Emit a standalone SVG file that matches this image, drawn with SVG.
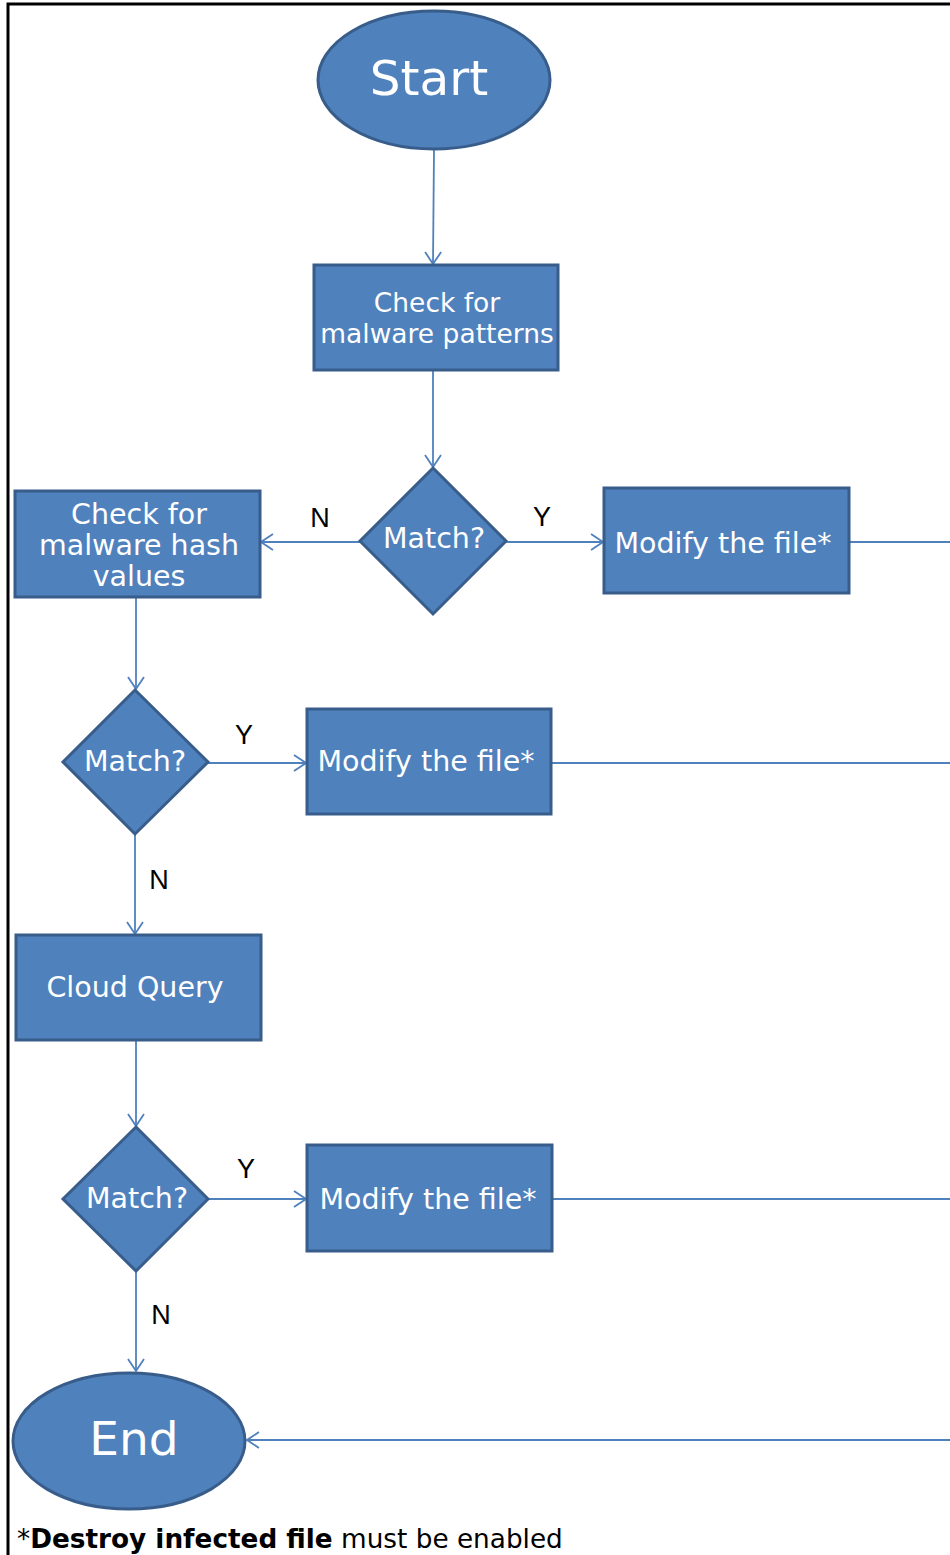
<svg xmlns="http://www.w3.org/2000/svg" width="950" height="1555" viewBox="0 0 950 1555">
<defs>
<style>
.shape{fill:#4F81BD;stroke:#385D8A;stroke-width:3}
.t{fill:#fff;font-family:"DejaVu Sans",Verdana,sans-serif;font-size:28.5px;text-anchor:middle;dominant-baseline:central}
.s27{font-size:26.5px}
.big{font-size:48.5px}
.end{font-size:47px}
.lbl{fill:#000;font-family:"Liberation Sans",Arial,sans-serif;font-size:27px;text-anchor:middle;dominant-baseline:central}
.c{stroke:#4F81BD;stroke-width:1.8;fill:none}
</style>
<marker id="ar" viewBox="0 0 14 18" refX="13" refY="9" markerWidth="14" markerHeight="18" markerUnits="userSpaceOnUse" orient="auto">
<path d="M1,1 L13,9 L1,17" fill="none" stroke="#4F81BD" stroke-width="1.8"/>
</marker>
</defs>
<rect width="950" height="1555" fill="#fff"/>
<path d="M8,1555 V4 H950" fill="none" stroke="#000" stroke-width="3"/>

<g id="connectors">
<path class="c" d="M434,150 L433,264" marker-end="url(#ar)"/>
<path class="c" d="M433,370 L433,467" marker-end="url(#ar)"/>
<path class="c" d="M360,542 L261,542" marker-end="url(#ar)"/>
<path class="c" d="M506,542 L603,542" marker-end="url(#ar)"/>
<path class="c" d="M849,542 L950,542"/>
<path class="c" d="M136,597 L136,689" marker-end="url(#ar)"/>
<path class="c" d="M208,763 L306,763" marker-end="url(#ar)"/>
<path class="c" d="M551,763 L950,763"/>
<path class="c" d="M135,834 L135,934" marker-end="url(#ar)"/>
<path class="c" d="M136,1040 L136,1126" marker-end="url(#ar)"/>
<path class="c" d="M208,1199 L306,1199" marker-end="url(#ar)"/>
<path class="c" d="M552,1199 L950,1199"/>
<path class="c" d="M136,1271 L136,1371" marker-end="url(#ar)"/>
<path class="c" d="M950,1440 L247,1440" marker-end="url(#ar)"/>
<text class="lbl" x="320" y="518">N</text>
<text class="lbl" x="542" y="517">Y</text>
<text class="lbl" x="244" y="735">Y</text>
<text class="lbl" x="159" y="880">N</text>
<text class="lbl" x="246" y="1169">Y</text>
<text class="lbl" x="161" y="1315">N</text>
</g>

<g id="start">
<ellipse class="shape" cx="434" cy="80" rx="116" ry="69"/>
<text class="t big" x="429" y="78">Start</text>
</g>
<g id="check-patterns">
<rect class="shape" x="314" y="265" width="244" height="105"/>
<text class="t s27" x="437" y="302">Check for</text>
<text class="t s27" x="437" y="333">malware patterns</text>
</g>
<g id="match1">
<polygon class="shape" points="433,468 506,541 433,614 360,541"/>
<text class="t" x="434" y="538">Match?</text>
</g>
<g id="modify1">
<rect class="shape" x="604" y="488" width="245" height="105"/>
<text class="t" x="723" y="543">Modify the file*</text>
</g>
<g id="check-hash">
<rect class="shape" x="15" y="491" width="245" height="106"/>
<text class="t" x="139" y="514">Check for</text>
<text class="t" x="139" y="545">malware hash</text>
<text class="t" x="139" y="576">values</text>
</g>
<g id="match2">
<polygon class="shape" points="135,690 208,762 135,834 63,762"/>
<text class="t" x="135" y="761">Match?</text>
</g>
<g id="modify2">
<rect class="shape" x="307" y="709" width="244" height="105"/>
<text class="t" x="426" y="761">Modify the file*</text>
</g>
<g id="cloud-query">
<rect class="shape" x="16" y="935" width="245" height="105"/>
<text class="t" x="135" y="987">Cloud Query</text>
</g>
<g id="match3">
<polygon class="shape" points="136,1127 208,1199 136,1271 63,1199"/>
<text class="t" x="137" y="1198">Match?</text>
</g>
<g id="modify3">
<rect class="shape" x="307" y="1145" width="245" height="106"/>
<text class="t" x="428" y="1199">Modify the file*</text>
</g>
<g id="end">
<ellipse class="shape" cx="129" cy="1441" rx="116" ry="68"/>
<text class="t end" x="134" y="1438">End</text>
</g>
<text x="17" y="1548" font-family="'DejaVu Sans',Verdana,sans-serif" font-size="26.3" fill="#000">*<tspan font-weight="bold">Destroy infected file</tspan> must be enabled</text>
</svg>
